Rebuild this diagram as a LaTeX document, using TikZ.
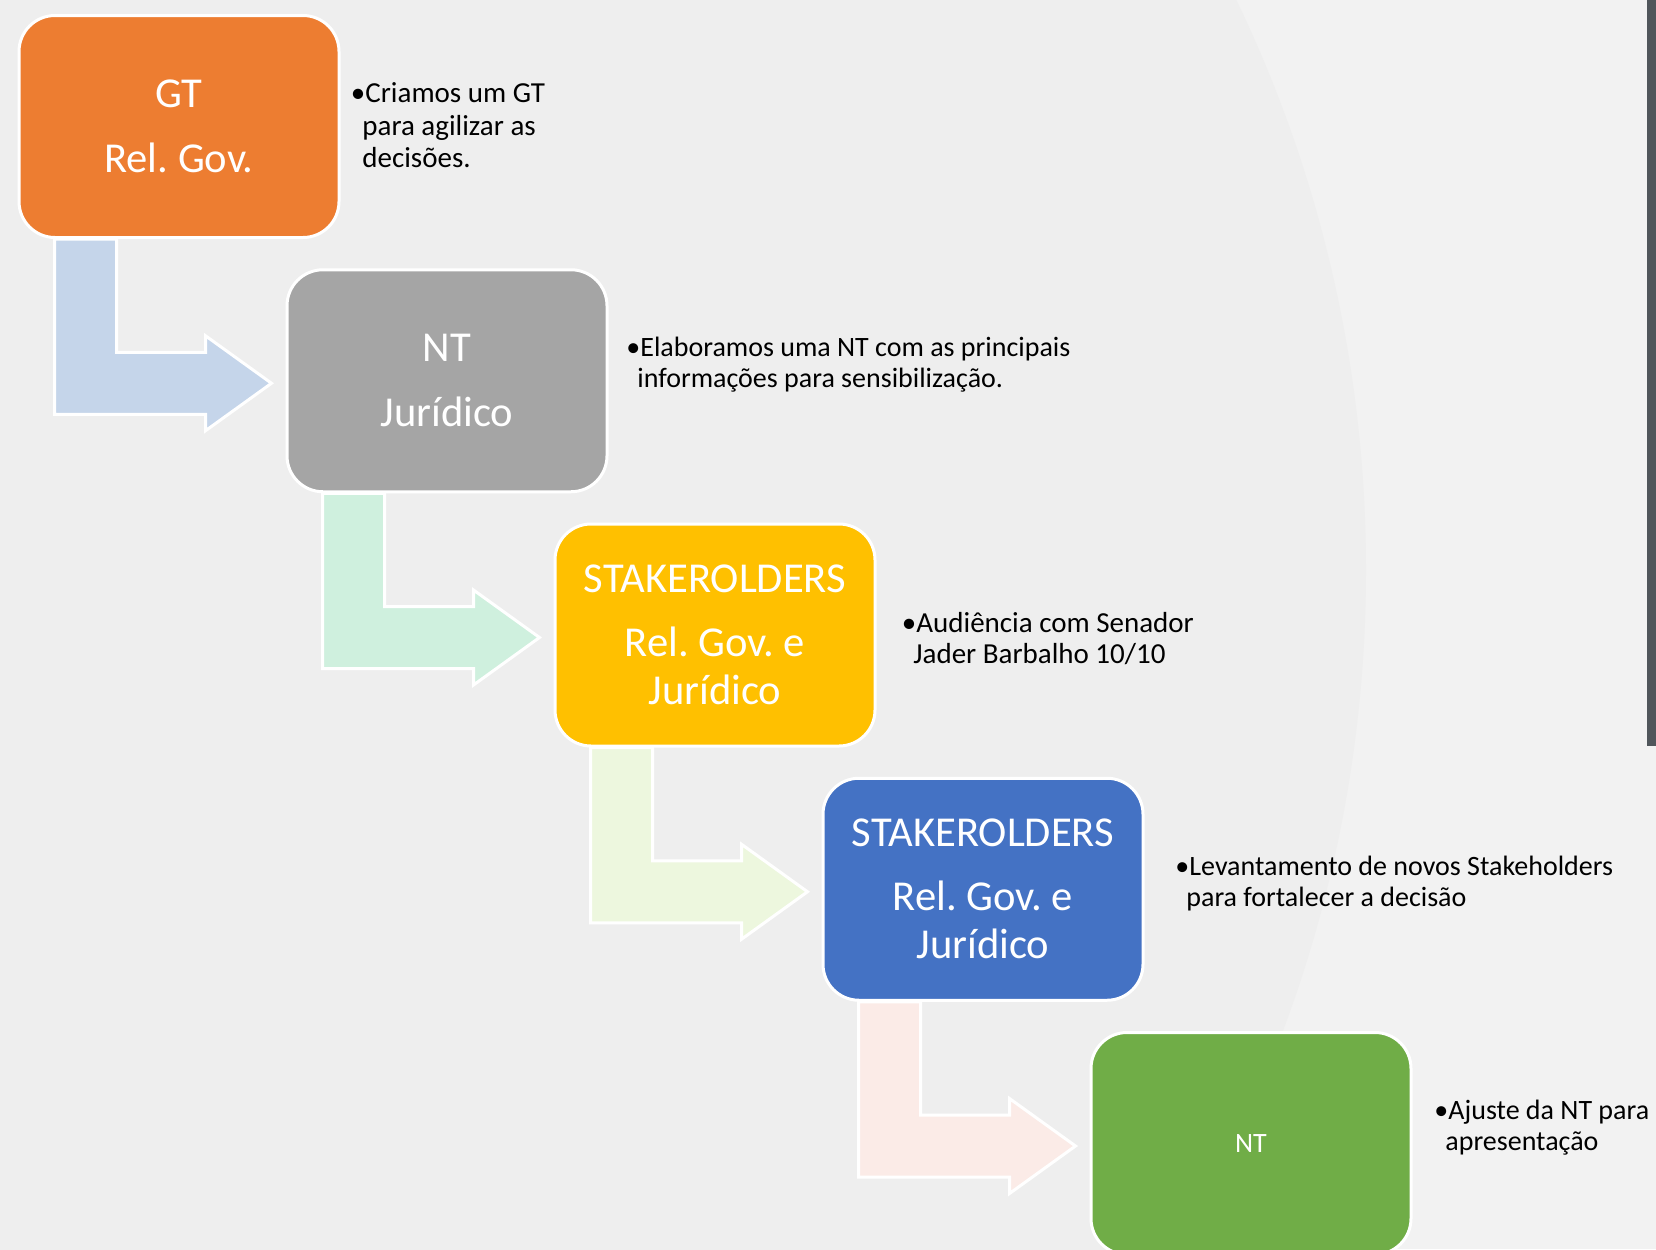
\documentclass[tikz,border=0pt]{standalone}
\usepackage{fontspec}
\setmainfont{Carlito}
\usetikzlibrary{calc}
\definecolor{bgL}{HTML}{EEEEEE}
\definecolor{bgR}{HTML}{F2F2F2}
\definecolor{barC}{HTML}{50565B}
\definecolor{cOrange}{HTML}{ED7D31}
\definecolor{cGray}{HTML}{A5A5A5}
\definecolor{cYellow}{HTML}{FFC000}
\definecolor{cBlue}{HTML}{4472C4}
\definecolor{cGreen}{HTML}{70AD47}
\definecolor{aBlue}{HTML}{C5D5EA}
\definecolor{aMint}{HTML}{CFF0DE}
\definecolor{aLime}{HTML}{EDF7DE}
\definecolor{aPink}{HTML}{FBEBE7}
\pgfdeclarelayer{bglayer}
\pgfdeclarelayer{arrlayer}
\pgfsetlayers{bglayer,arrlayer,main}
\frenchspacing
\begin{document}
\begin{tikzpicture}[x=0.5pt,y=-0.5pt,
  box/.style={draw=white, line width=1.5pt, rounded corners=18pt,
    minimum width=160pt, minimum height=111pt, text=white, align=center,
    inner sep=0pt, font=\fontsize{21.3}{24}\selectfont},
  bendarrow/.style={draw=white, line width=1.5pt, line join=miter},
  note/.style={anchor=base west, align=left, inner sep=0pt,
    font=\fontsize{14}{15.5}\selectfont, text=black}]

\useasboundingbox (0,0) rectangle (1656,1249);

\begin{pgfonlayer}{bglayer}
  \begin{scope}
    \clip (0,0) rectangle (1656,1249);
    \fill[bgR] (0,0) rectangle (1656,1249);
    \fill[bgL] (51,570) circle[radius=657.5pt];
    \fill[barC] (1647,0) rectangle (1656,746);
  \end{scope}
\end{pgfonlayer}

% boxes
\node[box, fill=cOrange] (b1) at (179,126.5) {GT\\[8.5pt]Rel. Gov.};
\node[box, fill=cGray]   (b2) at (447,380.75) {NT\\[8.5pt]Jurídico};
\node[box, fill=cYellow] (b3) at (715,635) {STAKEROLDERS\\[8pt]Rel. Gov. e\\Jurídico};
\node[box, fill=cBlue]   (b4) at (983,889.25) {STAKEROLDERS\\[8pt]Rel. Gov. e\\Jurídico};
\node[box, fill=cGreen, font=\fontsize{14}{16}\selectfont] (b5) at (1251,1143.5) {NT};

% bent arrows
\begin{pgfonlayer}{arrlayer}
\foreach \a/\b/\c in {b1/b2/aBlue, b2/b3/aMint, b3/b4/aLime, b4/b5/aPink}{
  \coordinate (sl) at ($(\a.south west)+(37,0)$);
  \coordinate (sr) at ($(\a.south west)+(99,0)$);
  \coordinate (tp) at ($(\b.west)+(-14,2.5)$);
  \coordinate (bt) at ($(\b.west)+(-80,-28.5)$);
  \coordinate (bb) at ($(\b.west)+(-80,33.5)$);
  \coordinate (ht) at ($(\b.west)+(-80,-45)$);
  \coordinate (hb) at ($(\b.west)+(-80,50)$);
  \path[bendarrow, fill=\c] (sl) -- (sl |- bb) -- (bb) -- (hb) -- (tp)
     -- (ht) -- (bt) -- (sr |- bt) -- (sr) -- cycle;
}
\end{pgfonlayer}

% notes (anchor: baseline of the last line)
\node[note, font=\fontsize{14.5}{16.25}\selectfont] (n1) at (362,167.5)
  {\hspace*{1.5pt}\llap{•}Criamos um GT\\para agilizar as\\decisões.};
\node[note] (n2) at (637,387)
  {\hspace*{1.5pt}\llap{•}Elaboramos uma NT com as principais\\informações para sensibilização.};
\node[note, font=\fontsize{14.5}{15.5}\selectfont] (n3) at (913,663)
  {\hspace*{1.5pt}\llap{•}Audiência com Senador\\Jader Barbalho 10/10};
\node[note] (n4) at (1186,906.5)
  {\hspace*{1.5pt}\llap{•}Levantamento de novos Stakeholders\\para fortalecer a decisão};
\node[note] (n5) at (1445,1150.5)
  {\hspace*{1.5pt}\llap{•}Ajuste da NT para\\apresentação};
\end{tikzpicture}
\end{document}
